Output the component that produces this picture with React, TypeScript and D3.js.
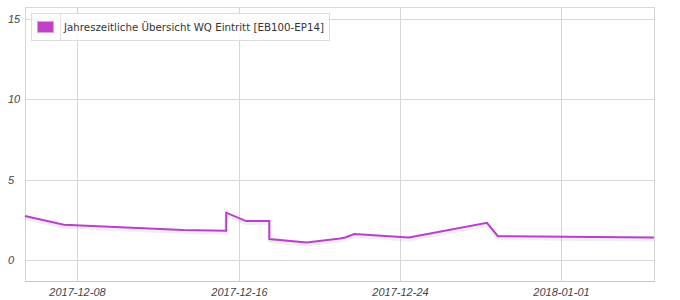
import React from "react";
import * as d3 from "d3";

const dates: string[] = [
  "2017-12-05T09:36", "2017-12-07T08:00", "2017-12-13T06:00", "2017-12-15T09:20",
  "2017-12-15T09:21", "2017-12-16T09:00", "2017-12-17T12:40", "2017-12-17T12:41",
  "2017-12-19T09:00", "2017-12-21T01:00", "2017-12-21T07:00", "2017-12-21T18:00",
  "2017-12-24T11:00", "2017-12-28T08:00", "2017-12-28T21:00", "2018-01-05T15:00",
];
const values: number[] = [
  2.74, 2.2, 1.88, 1.83,
  2.95, 2.43, 2.43, 1.31,
  1.1, 1.35, 1.41, 1.62,
  1.41, 2.32, 1.49, 1.41,
];
const yTicks: number[] = [0, 5, 10, 15];
const xTicks: string[] = ["2017-12-08", "2017-12-16", "2017-12-24", "2018-01-01"];
const seriesName = "Jahreszeitliche Übersicht WQ Eintritt [EB100-EP14]";

const W = 680, H = 300;
const L = 25, R = 654, T = 7, B = 281;
const parse = d3.timeParse("%Y-%m-%dT%H:%M");
const parseDay = d3.timeParse("%Y-%m-%d");

export default function App() {
  const x = d3.scaleTime()
    .domain([parse("2017-12-05T09:36")!, parse("2018-01-05T15:00")!])
    .range([L, R]);
  const y = d3.scaleLinear().domain([-1.3, 15.75]).range([B, T]);
  const data = dates.map((d, i) => ({ t: parse(d)!, v: values[i] }));
  const line = d3.line<{ t: Date; v: number }>().x(d => x(d.t)).y(d => y(d.v));
  const path = line(data) || "";
  const font = "'DejaVu Sans', Verdana, sans-serif";
  const font2 = "'Liberation Sans', Arial, sans-serif";
  return (
    <svg width={W} height={H} style={{ position: "absolute", left: 0, top: 0 }}>
      <rect x={0} y={0} width={W} height={H} fill="#fff" />
      {yTicks.map(t => (
        <g key={t}>
          <line x1={L} x2={R} y1={Math.round(y(t)) + 0.5} y2={Math.round(y(t)) + 0.5} stroke="#d6d6d6" />
          <text x={8} y={y(t) + 4} fontSize={11} fontStyle="italic" fill="#444" fontFamily={font2}>{t}</text>
        </g>
      ))}
      {xTicks.map(t => {
        const xv = Math.round(x(parseDay(t)!)) + 0.5;
        return (
          <g key={t}>
            <line x1={xv} x2={xv} y1={T} y2={B} stroke="#d6d6d6" />
            <text x={xv} y={296} fontSize={11} fontStyle="italic" fill="#444" textAnchor="middle" fontFamily={font2}>{t}</text>
          </g>
        );
      })}
      <rect x={L + 0.5} y={T + 0.5} width={R - L} height={B - T} fill="none" stroke="#d6d6d6" />
      <line x1={L} x2={R + 1} y1={B + 0.5} y2={B + 0.5} stroke="#c8c8c8" />
      <path d={path} fill="none" stroke="#b050c0" strokeOpacity={0.12} strokeWidth={4} transform="translate(0,2)" strokeLinejoin="round" />
      <path d={path} fill="none" stroke="#b542c9" strokeWidth={2} strokeLinejoin="miter" />
      <g>
        <rect x={31.5} y={13.5} width={298} height={27} fill="#fff" fillOpacity={0.85} stroke="#dcdcdc" />
        <line x1={60.5} x2={60.5} y1={13.5} y2={40.5} stroke="#e2e2e2" />
        <rect x={37.5} y={21.5} width={16} height={11} fill="#c040c8" stroke="#d9a0dd" />
        <text x={64} y={31} fontSize={10} fill="#333" fontFamily={font} textLength={260} lengthAdjust="spacingAndGlyphs">{seriesName}</text>
      </g>
    </svg>
  );
}
